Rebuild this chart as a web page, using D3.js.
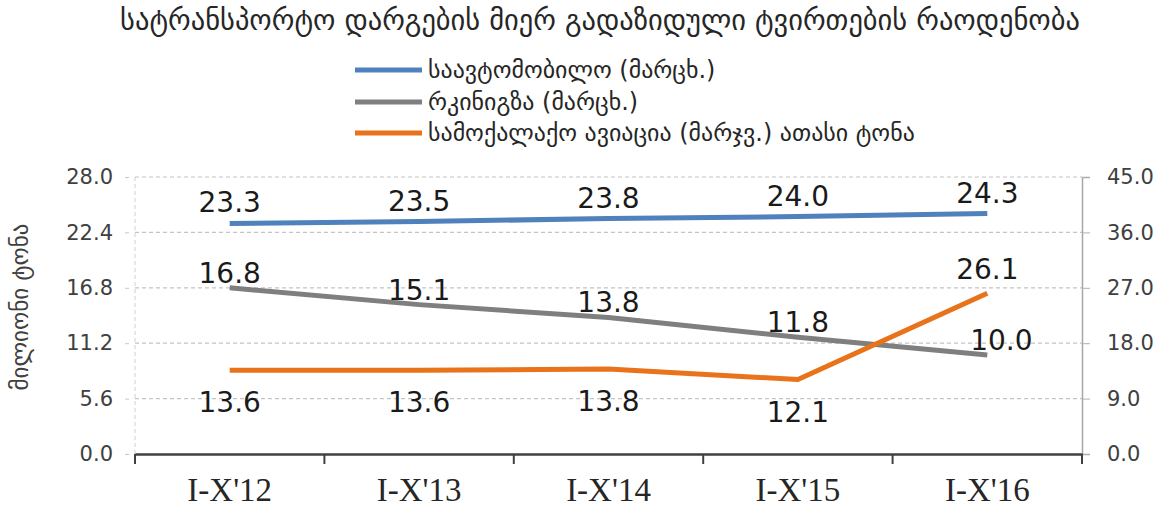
<!DOCTYPE html>
<html>
<head>
<meta charset="utf-8">
<script src="https://cdn.jsdelivr.net/npm/d3@7"></script>
<style>
  body { margin: 0; background: #fff; }
</style>
</head>
<body>
<script>
var categories = ["I-X'12", "I-X'13", "I-X'14", "I-X'15", "I-X'16"];
var roadValues = [23.3, 23.5, 23.8, 24.0, 24.3];
var railValues = [16.8, 15.1, 13.8, 11.8, 10.0];
var airValues = [13.6, 13.6, 13.8, 12.1, 26.1];
var leftTicks = [0, 5.6, 11.2, 16.8, 22.4, 28];
var rightTicks = [0, 9, 18, 27, 36, 45];
var titleText = "სატრანსპორტო დარგების მიერ გადაზიდული ტვირთების რაოდენობა";
var seriesNames = ["საავტომობილო (მარცხ.)", "რკინიგზა (მარცხ.)", "სამოქალაქო ავიაცია (მარჯვ.) ათასი ტონა"];
var yLabel = "მილიონი ტონა";

var width = 1169;
var height = 510;
var plotLeft = 135, plotRight = 1082, plotTop = 177, plotBottom = 454;
var geo = "'DejaVu Sans', sans-serif";

var svg = d3.select("body")
  .append("svg")
  .attr("width", width)
  .attr("height", height);

var xScale = d3.scaleBand()
  .domain(categories)
  .range([plotLeft, plotRight]);

var yLeft = d3.scaleLinear()
  .domain([0, 28])
  .range([plotBottom, plotTop]);

var yRight = d3.scaleLinear()
  .domain([0, 45])
  .range([plotBottom, plotTop]);

function cx(d, i) {
  return xScale(categories[i]) + xScale.bandwidth() / 2;
}

// dashed gridlines
svg.selectAll("line.grid")
  .data(leftTicks.slice(1))
  .enter()
  .append("line")
  .attr("class", "grid")
  .attr("x1", plotLeft)
  .attr("x2", plotRight)
  .attr("y1", function(d) { return yLeft(d); })
  .attr("y2", function(d) { return yLeft(d); })
  .attr("stroke", "#c4c4c4")
  .attr("stroke-width", 1.2)
  .attr("stroke-dasharray", "4,3");

svg.append("line")
  .attr("x1", plotLeft).attr("x2", plotLeft)
  .attr("y1", plotTop).attr("y2", plotBottom)
  .attr("stroke", "#d0d0d0")
  .attr("stroke-dasharray", "4,3");

// left axis
var gl = svg.append("g")
  .attr("transform", "translate(" + (plotLeft - 6) + ",0)")
  .call(d3.axisLeft(yLeft).tickValues(leftTicks).tickFormat(d3.format(".1f")).tickSize(4).tickPadding(12));
gl.select(".domain").remove();
gl.selectAll("line").attr("stroke", "#c8c8c8");
gl.selectAll("text")
  .attr("font-family", geo)
  .attr("font-size", "21px")
  .attr("fill", "#404040");

// right axis
var gr = svg.append("g")
  .attr("transform", "translate(" + plotRight + ",0)")
  .call(d3.axisRight(yRight).tickValues(rightTicks).tickFormat(d3.format(".1f")).tickSize(8).tickPadding(17));
gr.select(".domain").attr("stroke", "#a6a6a6").attr("stroke-width", 1.5);
gr.selectAll("line").attr("stroke", "#b0b0b0");
gr.selectAll("text")
  .attr("font-family", geo)
  .attr("font-size", "21px")
  .attr("fill", "#404040");

// bottom axis
var gb = svg.append("g")
  .attr("transform", "translate(0," + plotBottom + ")")
  .call(d3.axisBottom(xScale).tickSize(0).tickPadding(24));
gb.select(".domain").attr("stroke", "#404040").attr("stroke-width", 2.5);
gb.selectAll("text")
  .attr("font-family", "'Liberation Serif', serif")
  .attr("font-size", "33px")
  .attr("fill", "#262626");

var boundaries = categories.map(function(c) { return xScale(c); }).concat([plotRight]);
svg.selectAll("line.xtick")
  .data(boundaries)
  .enter()
  .append("line")
  .attr("class", "xtick")
  .attr("x1", function(d) { return d; })
  .attr("x2", function(d) { return d; })
  .attr("y1", plotBottom)
  .attr("y2", plotBottom + 10)
  .attr("stroke", "#404040")
  .attr("stroke-width", 2);

// series
var series = [
  { values: roadValues, scale: yLeft, color: "#4f81bd", dy: -11 },
  { values: railValues, scale: yLeft, color: "#7f7f7f", dy: -5 },
  { values: airValues, scale: yRight, color: "#e8731a", dy: 42 }
];

series.forEach(function(s) {
  var line = d3.line()
    .x(cx)
    .y(function(d) { return s.scale(d); });

  svg.append("path")
    .datum(s.values)
    .attr("d", line)
    .attr("fill", "none")
    .attr("stroke", s.color)
    .attr("stroke-width", 5)
    .attr("stroke-linejoin", "round");
});

series.forEach(function(s, k) {
  svg.selectAll("text.lbl" + k)
    .data(s.values)
    .enter()
    .append("text")
    .attr("class", "lbl" + k)
    .attr("x", function(d, i) {
      // last rail label sits a little right of its point
      return cx(d, i) + (k === 1 && i === 4 ? 14 : 0);
    })
    .attr("y", function(d, i) {
      // the last aviation label goes above the line
      if (k === 2 && i === 4) return s.scale(d) - 14;
      return s.scale(d) + s.dy;
    })
    .attr("text-anchor", "middle")
    .attr("font-family", geo)
    .attr("font-size", "28px")
    .attr("fill", "#1a1a1a")
    .text(function(d) { return d3.format(".1f")(d); });
});

// title
function fit(sel, target) {
  var w = sel.node().getComputedTextLength();
  var fs = parseFloat(sel.attr("font-size"));
  return fs * target / w;
}

var title = svg.append("text")
  .attr("x", 600)
  .attr("y", 30)
  .attr("text-anchor", "middle")
  .attr("font-family", geo)
  .attr("font-size", 20)
  .attr("fill", "#262626")
  .text(titleText);
title.attr("font-size", fit(title, 960));

// legend
var legendY = [70, 102, 133];
var lg = svg.selectAll("g.legend")
  .data(series)
  .enter()
  .append("g")
  .attr("class", "legend");

lg.append("line")
  .attr("x1", 355)
  .attr("x2", 422)
  .attr("y1", function(d, i) { return legendY[i]; })
  .attr("y2", function(d, i) { return legendY[i]; })
  .attr("stroke", function(d) { return d.color; })
  .attr("stroke-width", 5);

var legTexts = lg.append("text")
  .attr("x", 428)
  .attr("y", function(d, i) { return legendY[i]; })
  .attr("dy", "0.35em")
  .attr("font-family", geo)
  .attr("font-size", 20)
  .attr("fill", "#262626")
  .text(function(d, i) { return seriesNames[i]; });
var legSize = fit(d3.select(legTexts.nodes()[2]), 487);
legTexts.attr("font-size", legSize);

// y axis title
var yt = svg.append("text")
  .attr("transform", "translate(28,307) rotate(-90)")
  .attr("text-anchor", "middle")
  .attr("font-family", geo)
  .attr("font-size", 20)
  .attr("fill", "#404040")
  .text(yLabel);
yt.attr("font-size", fit(yt, 167));
</script>
</body>
</html>
